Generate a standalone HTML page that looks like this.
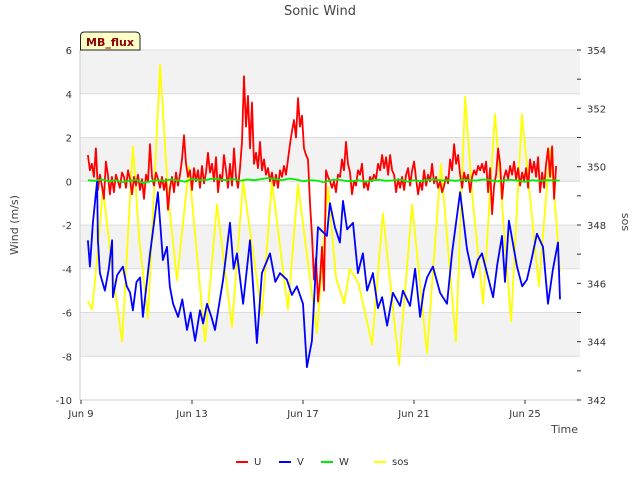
<!DOCTYPE html>
<html><head><meta charset="utf-8"><style>
body{margin:0;background:#fff;font-family:"Liberation Sans","DejaVu Sans",sans-serif;}
svg text{font-family:"DejaVu Sans","Liberation Sans",sans-serif;}
</style></head><body>
<svg id="c" width="640" height="480" xmlns="http://www.w3.org/2000/svg"></svg>
<script>
const uStart=9.25, uStep=0.0721;
const uVals=[1.2,0.5,0.8,0.2,1.5,-0.4,0.3,-0.2,-0.8,0.9,0.3,-0.6,0.2,-0.5,0.3,0.0,-0.3,0.4,0.2,-0.3,0.5,0.1,-0.6,0.2,-0.2,0.3,-0.4,0.1,-0.8,0.3,0.0,1.7,0.2,-0.2,0.4,0.1,-0.3,0.2,-0.4,0.1,-1.3,-0.3,0.2,-0.5,0.4,-0.2,0.3,1.0,2.1,0.8,0.2,0.5,-0.4,0.6,0.0,0.5,-0.3,0.7,-0.1,0.4,1.3,0.4,0.8,0.0,1.1,-0.5,0.3,0.0,1.2,0.5,-0.3,0.8,-0.2,1.5,0.2,-0.3,0.6,1.8,4.8,2.5,3.9,1.5,3.6,0.8,1.3,0.6,1.8,0.5,1.0,0.3,0.6,0.0,0.4,-0.2,0.3,-0.3,0.5,0.2,0.7,0.3,1.0,1.7,2.3,2.8,2.0,3.8,2.5,3.0,1.5,1.2,1.0,-1.0,-2.5,-4.5,-3.5,-5.5,-4.5,-3.0,-5.0,0.5,0.2,0.0,-0.3,0.0,-0.5,0.3,0.2,1.0,0.5,1.8,0.8,0.4,-0.6,0.0,-0.2,0.5,0.3,0.8,-0.3,0.0,-0.4,0.2,0.0,0.3,0.1,0.8,0.5,1.2,0.6,1.1,0.3,1.2,0.5,0.3,-0.5,0.1,-0.3,0.2,-0.4,0.3,0.6,-0.2,0.5,0.9,0.1,-0.6,0.0,-0.4,0.5,-0.2,0.3,0.0,0.8,-0.1,0.2,-0.3,0.0,-0.5,-0.2,0.2,-0.1,1.0,0.5,1.7,0.8,1.2,0.3,-0.3,0.4,0.0,0.3,-0.5,0.2,0.5,0.3,0.7,0.5,0.8,0.4,0.9,-0.5,0.6,-1.5,-0.2,0.3,1.5,0.8,-0.8,0.2,0.5,0.1,0.7,0.3,0.9,0.1,0.6,-0.2,0.4,0.0,0.6,-0.3,1.0,0.4,0.9,0.2,1.1,-0.5,0.4,-0.3,0.8,1.5,0.2,1.6,-0.8,0.7];
const vDays=[9.25,9.32,9.43,9.58,9.61,9.68,9.86,10.0,10.12,10.15,10.3,10.51,10.65,10.77,10.87,11.0,11.13,11.23,11.49,11.77,11.95,12.10,12.2,12.32,12.5,12.65,12.82,12.95,13.11,13.29,13.4,13.54,13.7,13.83,14.12,14.37,14.5,14.62,14.84,15.09,15.34,15.52,15.81,16.0,16.17,16.42,16.6,16.78,17.00,17.14,17.32,17.54,17.86,17.97,18.15,18.33,18.44,18.59,18.80,18.98,19.16,19.31,19.52,19.7,19.85,20.03,20.24,20.50,20.60,20.86,21.04,21.22,21.35,21.47,21.68,21.94,22.19,22.37,22.66,22.91,23.13,23.3,23.45,23.63,23.85,24.0,24.17,24.28,24.42,24.71,24.9,25.07,25.25,25.43,25.65,25.83,26.01,26.19,26.26];
const vVals=[-2.7,-3.9,-1.9,0.0,-2.7,-4.2,-5.0,-4.0,-2.7,-5.3,-4.3,-3.9,-4.8,-5.1,-5.9,-4.6,-4.4,-6.2,-3.3,-0.5,-3.6,-3.0,-4.8,-5.6,-6.2,-5.4,-6.8,-6.0,-7.3,-5.9,-6.5,-5.6,-6.2,-6.8,-4.5,-1.9,-4.0,-3.3,-5.6,-2.7,-7.4,-4.2,-3.3,-4.6,-4.2,-4.5,-5.2,-4.8,-5.6,-8.5,-7.3,-2.1,-2.5,-1.0,-2.1,-2.8,-0.9,-2.2,-1.9,-4.2,-3.3,-5.0,-4.2,-5.8,-5.3,-6.6,-5.1,-5.7,-5.0,-5.7,-4.0,-6.2,-5.0,-4.4,-3.9,-5.1,-5.6,-3.3,-0.5,-3.1,-4.4,-3.6,-3.3,-4.2,-5.3,-3.8,-2.5,-4.6,-1.8,-3.9,-4.8,-4.5,-3.5,-2.4,-3.0,-5.6,-4.0,-2.8,-5.4];
const wStart=9.25, wStep=0.25;
const wVals=[0.05,0.02,0.08,0.0,0.05,-0.05,0.03,0.06,-0.08,0.0,0.05,0.02,0.08,0.04,-0.02,0.1,0.05,0.06,0.12,0.08,0.05,0.1,0.02,0.08,0.05,0.1,0.15,0.1,0.05,0.12,0.08,0.0,0.05,0.03,-0.05,0.05,0.08,0.02,0.0,0.05,-0.03,0.05,0.06,0.02,0.04,0.08,-0.02,0.05,0.0,0.06,0.08,0.03,0.05,0.02,0.06,0.05,0.03,0.08,0.05,0.0,0.04,0.06,0.03,-0.03,0.05,0.02,0.05,0.04,0.03];
const sDays=[9.25,9.40,9.6,9.79,10.12,10.48,10.87,11.1,11.41,11.85,12.14,12.46,12.89,13.47,13.90,14.44,14.84,15.52,15.88,16.46,16.82,17.50,17.90,18.19,18.48,18.69,19.0,19.49,19.88,20.46,20.93,21.47,21.97,22.51,22.84,23.1,23.49,23.92,24.50,24.89,25.50,25.90,26.1,26.26];
const sVals=[345.4,345.1,347.0,349.3,346.5,344.0,350.7,347.5,344.8,353.5,349.0,346.1,350.0,344.0,348.7,344.5,349.5,344.9,349.5,345.1,349.4,344.3,349.3,346.2,345.3,346.5,346.0,343.9,348.4,343.2,348.7,343.6,350.1,344.0,352.4,349.0,345.3,351.8,344.7,351.8,345.9,350.6,348.5,346.4];
const yTicks=[6,4,2,0,-2,-4,-6,-8,-10];
const sTicks=[342,344,346,348,350,352,354];
const xTicks=[9,13,17,21,25];
const xTickLabels=["Jun 9","Jun 13","Jun 17","Jun 21","Jun 25"];

const L=80,R=580,T=50,B=400;
const X=d=>81+(d-9)*27.75;
const Y=v=>T+(6-v)*(B-T)/16;
const S=v=>T+(354-v)*(B-T)/12;
const svg=document.getElementById('c');
const NS='http://www.w3.org/2000/svg';
function mk(tag,attrs,parent){const e=document.createElementNS(NS,tag);for(const k in attrs)e.setAttribute(k,attrs[k]);(parent||svg).appendChild(e);return e;}

for(let i=0;i<8;i+=2){
  const r=mk('rect',{x:L,y:Y(yTicks[i]),width:R-L,height:Y(yTicks[i+1])-Y(yTicks[i]),fill:'#f2f2f2'});
  
  
}
yTicks.forEach((v,i)=>{
  const g=mk('line',{x1:L,x2:R,y1:Y(v),y2:Y(v),stroke:'#dcdcdc','stroke-width':1});
  
  
  const t=mk('text',{x:72,y:Y(v)+4,'text-anchor':'end','font-size':10,fill:'#333'});
  t.textContent=v;
  
  
});
mk('line',{x1:L,x2:L,y1:T,y2:B,stroke:'#ccc'});
mk('line',{x1:L,x2:R,y1:B,y2:B,stroke:'#ccc'});
for(let v=342;v<=354;v++){
  const tk=mk('line',{x1:R-3,x2:R+1,y1:S(v),y2:S(v),stroke:'#333'});
  
  
}
sTicks.forEach(v=>{
  const t=mk('text',{x:587,y:S(v)+4,'font-size':10,fill:'#333'});
  t.textContent=v;
  
  
});
xTicks.forEach((d,i)=>{
  mk('line',{x1:X(d),x2:X(d),y1:B,y2:B+4,stroke:'#333'});
  const t=mk('text',{x:X(d),y:417,'text-anchor':'middle','font-size':10,fill:'#333'});
  t.textContent=xTickLabels[i];
  
  
});

function line(pts,color,name){
  const p=mk('polyline',{points:pts.map(q=>q[0].toFixed(1)+','+q[1].toFixed(1)).join(' '),fill:'none',stroke:color,'stroke-width':1.8,'stroke-linejoin':'round'});
  
  
}
line(sDays.map((d,i)=>[X(d),S(sVals[i])]),'#ffff00','sos-line');
line(uVals.map((v,i)=>[X(uStart+i*uStep),Y(v)]),'#ff0000','u-line');
line(vDays.map((d,i)=>[X(d),Y(vVals[i])]),'#0000ff','v-line');
line(wVals.map((v,i)=>[X(wStart+i*wStep),Y(v)]),'#00ee00','w-line');

function txt(s,attrs,name){const t=mk('text',attrs);t.textContent=s;return t;}
txt('Sonic Wind',{x:320,y:15,'text-anchor':'middle','font-size':13,fill:'#444'},'chart-title');
txt('Wind (m/s)',{x:18,y:225,'text-anchor':'middle','font-size':11,fill:'#444',transform:'rotate(-90 18 225)'},'y-axis-title');
txt('sos',{x:622,y:222,'text-anchor':'middle','font-size':11,fill:'#444',transform:'rotate(90 622 222)'},'right-axis-title');
txt('Time',{x:578,y:433,'text-anchor':'end','font-size':11,fill:'#444'},'x-axis-title');

const badge=mk('path',{d:'M80.5,50 L80.5,36 Q80.5,32 84.5,32 L135.5,32 Q139.5,32 140,36 L140,50 Z',fill:'#ffffc8',stroke:'#222'});


txt('MB_flux',{x:110,y:46,'text-anchor':'middle','font-size':11,'font-weight':'bold',fill:'#8b0000'},'mb-flux-label');

const leg=[['U','#ff0000',236],['V','#0000ff',279],['W','#00ee00',321],['sos','#ffff00',374]];
leg.forEach(l=>{
  const ln=mk('line',{x1:l[2],x2:l[2]+12,y1:462,y2:462,stroke:l[1],'stroke-width':2});
  
  
  txt(l[0],{x:l[2]+18,y:465,'font-size':10,fill:'#333'},'legend-entry-'+l[0].toLowerCase());
});
</script>
</body></html>
